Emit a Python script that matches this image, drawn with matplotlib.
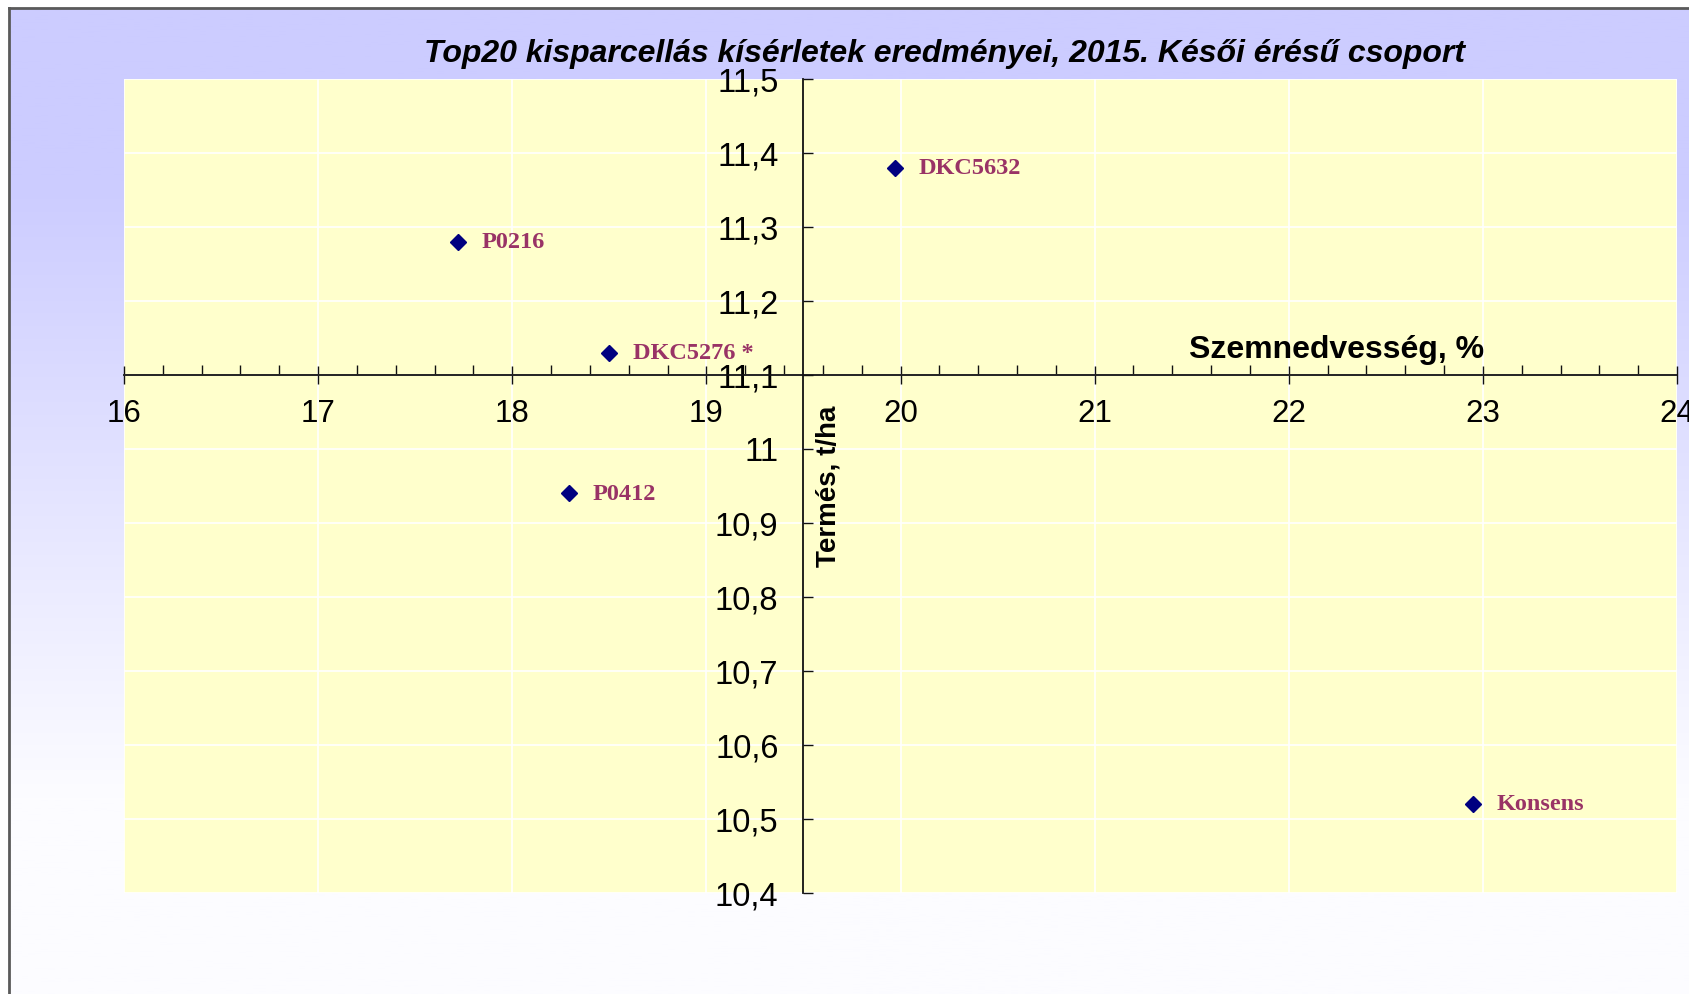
import numpy as np
import matplotlib.pyplot as plt
from matplotlib.ticker import FuncFormatter, MultipleLocator

# data
hybrids = ["DKC5632", "P0216", "DKC5276 *", "P0412", "Konsens"]
moisture = [19.97, 17.72, 18.50, 18.29, 22.95]     # Szemnedvesség, %
yield_t = [11.38, 11.28, 11.13, 10.94, 10.52]      # Termés, t/ha

x_ticks = [16, 17, 18, 19, 20, 21, 22, 23, 24]
y_ticks = [10.4, 10.5, 10.6, 10.7, 10.8, 10.9, 11.0, 11.1, 11.2, 11.3, 11.4, 11.5]

W, H = 1689, 994
fig = plt.figure(figsize=(W / 100, H / 100), dpi=100)
fig.patch.set_facecolor("white")

## background gradient (lavender -> white) with a border on top/left
bg = fig.add_axes([9 / W, 0, 1, 1 - 8 / H], zorder=-2)
t = np.linspace(0, 1, 400)
fade = np.clip((t - 0.18) / 0.62, 0, 1)
top = np.array([204, 204, 255]) / 255
bottom = np.array([252, 252, 255]) / 255
grad = top[None, :] * (1 - fade[:, None]) + bottom[None, :] * fade[:, None]
bg.imshow(grad[:, None, :], aspect="auto", extent=[0, 1, 0, 1], origin="upper")
bg.set_xticks([])
bg.set_yticks([])
for s in ["right", "bottom"]:
    bg.spines[s].set_visible(False)
for s in ["left", "top"]:
    bg.spines[s].set_color("#5a5a5a")
    bg.spines[s].set_linewidth(2)

## main plot
ax = fig.add_axes([124 / W, 1 - 893 / H, 1553 / W, 814 / H])
ax.set_facecolor("#FFFFCC")

ax.plot(moisture, yield_t, linestyle="none", marker="D", markersize=8.5,
        color="#000080", zorder=5)

for name, xv, yv in zip(hybrids, moisture, yield_t):
    ax.annotate(name, (xv, yv), xytext=(17, -0.5), textcoords="offset points",
                va="center", ha="left", fontsize=17.5, fontweight="bold",
                family="Liberation Serif", color="#993366", zorder=6)

ax.set_xlim(16, 24)
ax.set_ylim(10.4, 11.5)
ax.set_xticks(x_ticks)
ax.set_yticks(y_ticks)
ax.xaxis.set_minor_locator(MultipleLocator(0.2))
# excel style: decimal comma, no trailing zero
ax.yaxis.set_major_formatter(FuncFormatter(lambda v, p: f"{v:g}".replace(".", ",")))

ax.grid(True, which="major", color="white", linewidth=1.2)
ax.set_axisbelow(True)

# axes cross at x=19.5 and y=11.1
ax.spines["left"].set_position(("data", 19.5))
ax.spines["bottom"].set_position(("data", 11.1))
ax.spines["top"].set_visible(False)
ax.spines["right"].set_visible(False)
for s in ["left", "bottom"]:
    ax.spines[s].set_color("#111111")
    ax.spines[s].set_linewidth(1.3)

ax.tick_params(axis="x", which="major", direction="inout", length=13,
               width=1, color="#111111", labelsize=22.5, pad=11)
ax.tick_params(axis="x", which="minor", direction="in", length=7,
               width=1, color="#111111")
ax.tick_params(axis="y", which="major", direction="in", length=7,
               width=1, color="#111111", labelsize=23.5, pad=18)
for lab in ax.get_xticklabels() + ax.get_yticklabels():
    lab.set_family("Liberation Sans")

ax.text((1337 - 124) / 1553, (893 - 350) / 814, "Szemnedvesség, %",
        transform=ax.transAxes, ha="center", va="center",
        fontsize=23, fontweight="bold", family="Liberation Sans")
ax.text((829 - 124) / 1553, (893 - 486) / 814, "Termés, t/ha",
        transform=ax.transAxes, ha="center", va="center", rotation=90,
        fontsize=20, fontweight="bold", family="Liberation Sans")

fig.text(944 / W, 1 - 54 / H,
         "Top20 kisparcellás kísérletek eredményei, 2015. Késői érésű csoport",
         ha="center", va="center", fontsize=23, fontweight="bold",
         fontstyle="italic", family="Liberation Sans")

plt.savefig("out.png", dpi=100)
